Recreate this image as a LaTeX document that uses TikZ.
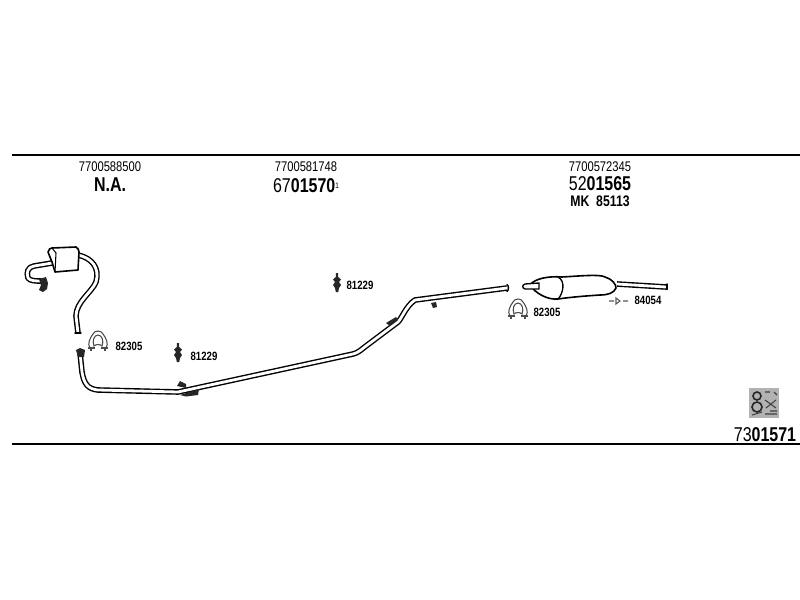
\documentclass[tikz,border=0pt]{standalone}
\usepackage{fontspec}
\setmainfont{Liberation Sans}
\newfontfamily\partfont[FakeStretch=0.8]{Liberation Sans}
\tikzset{every picture/.style={line width=0.75pt}}
\tikzset{
	partno/.style={inner sep=0pt,font=\partfont\fontsize{10.5}{12}\selectfont},
	orderno/.style={inner sep=0pt,font=\partfont\fontsize{15}{17}\selectfont},
	smallno/.style={inner sep=0pt,font=\partfont\bfseries\fontsize{9}{11}\selectfont},
	rulerline/.style={line width=1.5pt},
	pipe/.style={line width=1.05pt,double=white,double distance=2.1pt,line join=round},
	pipeend/.style={line width=1.05pt,line cap=round},
	clampline/.style={line width=0.8pt,color=black!70},
	clamp/.pic={
		\draw [clampline] (-8,7) .. controls (-11,3) and (-8,-3) .. (-5,-7) .. controls (-3,-11) and (3,-11) .. (5,-7) .. controls (8,-3) and (11,3) .. (8,7) ;
		\draw [clampline] (-4,5) .. controls (-6,0) and (-4,-6) .. (0,-6) .. controls (4,-6) and (6,0) .. (4,5) .. controls (2,3) and (-2,3) .. (-4,5) -- cycle ;
		\draw [line width=1.4pt,color=black!70] (-10,7) -- (-3,7) (3,7) -- (10,7) (-7,7) -- (-7,10) (7,7) -- (7,10) ;
	},
	bolt/.pic={
		\fill [black!85] (-1.2,-10) -- (1.2,-10) -- (1.2,-6) -- (4,-3.5) -- (2,-1) -- (4,2) -- (2,5) -- (1.2,9) -- (-1.2,9) -- (-2,5) -- (-4,2) -- (-2,-1) -- (-4,-3.5) -- (-1.2,-6) -- cycle ;
	}
}
\begin{document}
\begin{tikzpicture}[x=0.75pt,y=-0.75pt]
	\useasboundingbox (0,0) rectangle (800,600);
	% rules
	\draw [rulerline] (12,155) -- (800,155) ;
	\draw [rulerline] (12,444) -- (800,444) ;
	% head texts
	\node [partno] (nrA) at (110,167) {7700588500};
	\node [orderno,font=\partfont\bfseries\fontsize{15}{17}\selectfont] (orderA) at (110,185) {N.A.};
	\node [partno] (nrB) at (306,167) {7700581748};
	\node [orderno] (orderB) at (306,186) {67\textbf{01570}\raisebox{3.5pt}{\fontsize{6}{7}\selectfont 1}};
	\node [partno] (nrC) at (600,167) {7700572345};
	\node [orderno] (orderC) at (600,184) {52\textbf{01565}};
	\node [smallno,font=\partfont\bfseries\fontsize{11.5}{13}\selectfont] (kitC) at (600,201) {MK\ \ 85113};
	\node [orderno] (orderD) at (765,435) {73\textbf{01571}};
	% left silencer
	\draw [pipe] (78,255) .. controls (92,258) and (100,268) .. (96,282) .. controls (92,292) and (76,302) .. (76,316) -- (78,333) ;
	\draw [pipeend] (75,333) -- (81,333) ;
	\draw [pipe] (52,263) -- (34,266) .. controls (28,267) and (26,272) .. (28,278) .. controls (30,281) and (36,281) .. (41,281) ;
	\fill [black!85] (39,279) -- (46,277) -- (48,283) -- (47,289) -- (43,292) -- (39,290) -- (41,285) -- cycle ;
	\draw [line width=1.2pt,fill=white,line join=round] (48,252) .. controls (49,249) and (50,248) .. (52,248) -- (76,247) .. controls (78,248) and (79,250) .. (79,252) -- (78,270) -- (55,272) -- (52,262) -- cycle ;
	\draw [line width=0.8pt] (52,248) -- (56,253) -- (55,272) ;
	% long pipe
	\draw [pipe] (80,353) -- (82,372) .. controls (84,384) and (88,389) .. (98,390) -- (178,392) -- (353,354) .. controls (358,353) and (362,349) .. (366,346) -- (398,322) .. controls (402,318) and (406,306) .. (415,300) -- (507,288) ;
	\draw [pipeend] (507,284.5) .. controls (509,286) and (509,290) .. (507,291.5) ;
	\fill [black!85] (76,350) -- (80,348) -- (85,350) -- (84,357) -- (78,357) -- cycle ;
	\fill [black!85] (177,386) -- (180,381) -- (186,384) -- (186,388) -- cycle ;
	\fill [black!85] (180,395) -- (199,389) -- (198,395) -- (186,396.5) -- cycle ;
	\fill [black!85] (386,323) -- (396,317) -- (398,320) -- (390,326) -- cycle ;
	\fill [black!85] (431,303) -- (436,302) -- (437,307) -- (433,308) -- cycle ;
	% right silencer
	\draw [pipe] (617,284) -- (666,287) ;
	\draw [pipeend] (667,284) -- (667,289.5) ;
	\draw [line width=1.2pt,fill=white] (530,285) .. controls (535,278) and (550,276) .. (562,277) .. controls (580,276) and (600,274) .. (605,277) .. controls (612,279) and (616,284) .. (616,288) .. controls (614,293) and (608,295) .. (600,295) .. controls (585,296) and (572,297) .. (558,299) .. controls (548,300) and (536,294) .. (530,285) -- cycle ;
	\draw [line width=1pt] (558,277) .. controls (566,281) and (563,294) .. (558,299) ;
	\draw [line width=1pt,fill=white] (539,283) -- (525,284) .. controls (522,285) and (522,288) .. (525,289) -- (539,289) -- cycle ;
	% clamps and bolts
	\pic at (98,341) {clamp};
	\pic at (518,309) {clamp};
	\pic at (178,353) {bolt};
	\pic at (337,283) {bolt};
	\node [smallno] (clampA) at (129,346) {82305};
	\node [smallno] (clampB) at (547,312) {82305};
	\node [smallno] (boltA) at (204,356) {81229};
	\node [smallno] (boltB) at (360,285) {81229};
	\node [smallno] (hangerC) at (648,300) {84054};
	% hanger mark
	\draw [line width=0.8pt,color=black!65] (609,301) -- (614,301) (616,298) -- (616,304) -- (620,301) -- cycle (623,301) -- (628,301) ;
	% diagram symbol
	\fill [black!30] (749,388) rectangle (779,418) ;
	\draw [line width=1.2pt,black!85] (757,396) circle [radius=4] (757,407) circle [radius=5] ;
	\draw [line width=0.8pt,black!75] (765,392) -- (770,392) (774,392) -- (777,395) (765,400) -- (776,408) (776,400) -- (766,408) (752,415) -- (762,412) (765,414) -- (777,414) (770,411) -- (777,411) ;
\end{tikzpicture}
\end{document}
